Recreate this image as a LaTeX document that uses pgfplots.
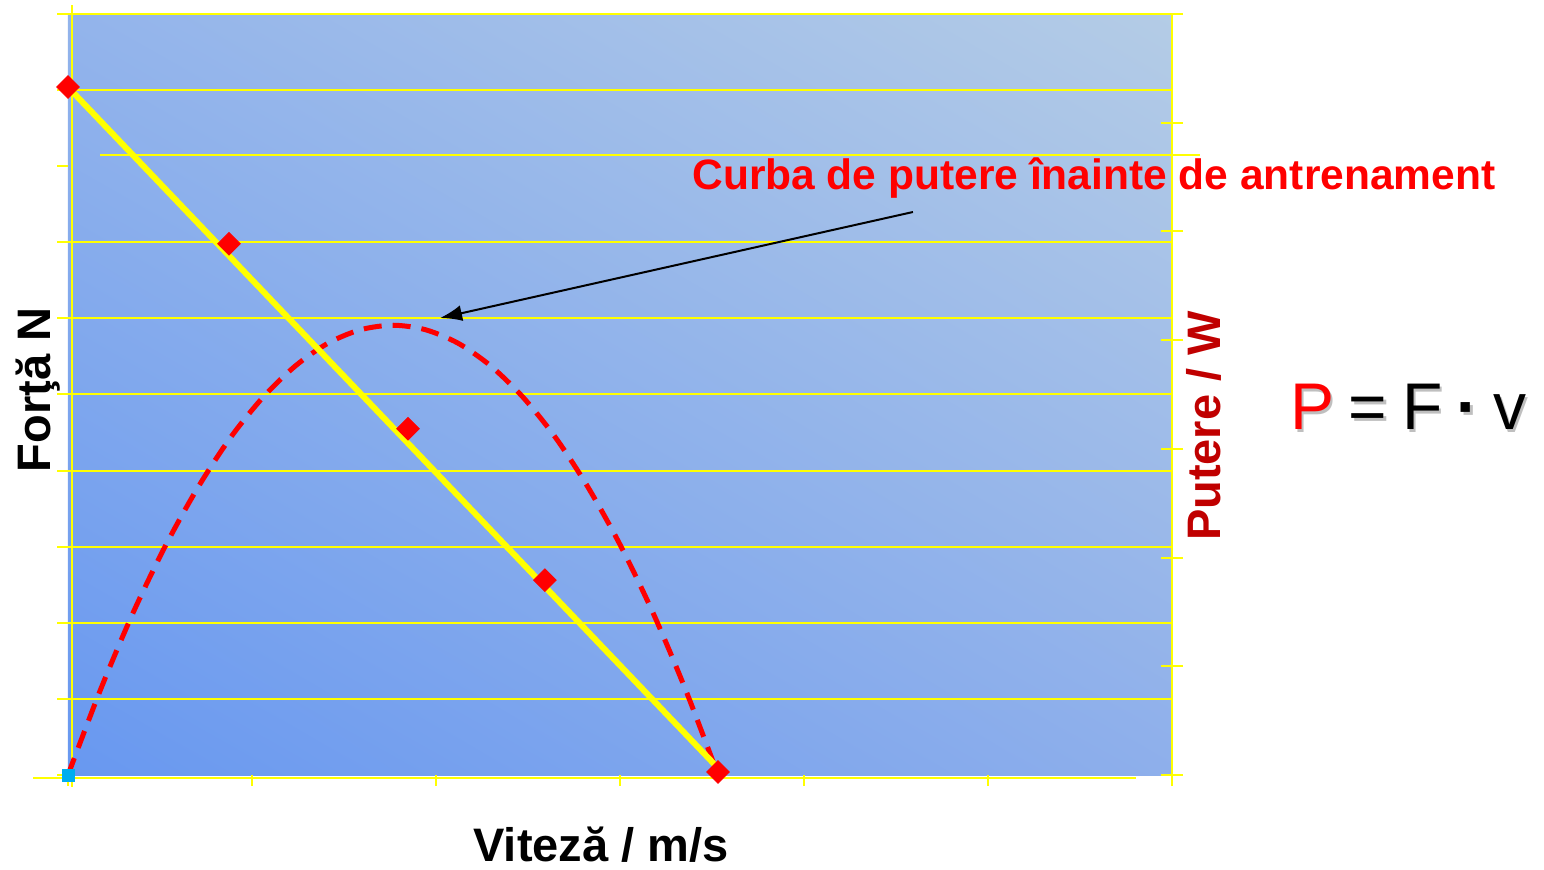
\documentclass[border=0pt]{standalone}
\usepackage{pgfplots}
\pgfplotsset{compat=1.18}
\usepackage{fontspec}
\setmainfont{Liberation Sans}
\usetikzlibrary{arrows.meta,shadings}
\definecolor{ylw}{RGB}{255,255,0}
\definecolor{dred}{RGB}{192,0,0}
\definecolor{bgll}{HTML}{6898F0}
\definecolor{bgul}{HTML}{93B4EB}
\definecolor{bgur}{HTML}{B4CCE6}
\definecolor{bglr}{HTML}{8EAFEB}
\begin{document}
\begin{tikzpicture}[x=1pt,y=1pt]
\useasboundingbox (0,0) rectangle (772,434.5);
\begin{axis}[
  at={(34pt,47pt)}, anchor=south west,
  scale only axis, width=552pt, height=380.5pt,
  xmin=0, xmax=6, ymin=0, ymax=10,
  clip=false,
  axis background/.style={shading=bilinear interpolation, lower left=bgll, upper left=bgul, upper right=bgur, lower right=bglr},
  axis line style={draw=none},
  xtick={0,...,6}, ytick={0,...,10},
  xticklabels={}, yticklabels={},
  tick pos=left, tick align=outside, major tick length=5.5pt,
  tick style={ylw, line width=1pt},
  xlabel={\bfseries Vitez\u{a} / m/s},
  ylabel={\bfseries For\c{t}\u{a} N},
  every axis x label/.style={at={(axis description cs:0.4828,-0.1138)}, anchor=base, inner sep=0pt, font=\fontsize{23.5pt}{28pt}\selectfont},
  every axis y label/.style={at={(axis description cs:-0.0163,0.5059)}, rotate=90, anchor=base, font=\fontsize{23.5pt}{28pt}\selectfont},
]
% grid and frame lines
\foreach \g in {1,2,3,4,5,6,7,9} {
  \edef\tmp{\noexpand\draw[ylw, line width=1pt] (axis cs:0,\g) -- (axis cs:6,\g);}\tmp
}
\draw[ylw, line width=1pt] (axis cs:0.174,8.147) -- (axis cs:6.152,8.147);
\draw[ylw, line width=1pt] (axis cs:-0.054,10) -- (axis cs:6.054,10);
\draw[ylw, line width=1pt] (axis cs:0.0217,-0.158) -- (axis cs:0.0217,10.118);
\draw[ylw, line width=1pt] (axis cs:-0.19,-0.039) -- (axis cs:5.804,-0.039);
\draw[ylw, line width=1pt] (axis cs:6,-0.145) -- (axis cs:6,10);
% power curve (dashed)
\addplot[red, line width=2.5pt, dash pattern=on 9pt off 5.5pt, smooth] coordinates {
 (0,0) (0.177,1.123) (0.353,2.128) (0.530,3.014) (0.707,3.782) (0.883,4.433)
 (1.060,4.964) (1.237,5.378) (1.413,5.674) (1.590,5.851) (1.767,5.910)
 (1.943,5.851) (2.120,5.674) (2.296,5.378) (2.473,4.964) (2.650,4.433)
 (2.826,3.782) (3.003,3.014) (3.180,2.128) (3.356,1.123) (3.533,0)
};
% force-velocity line
\addplot[ylw, line width=3pt] coordinates {(0,9.04) (3.533,0.09)};
\addplot[only marks, mark=square*, mark size=4pt, mark options={rotate=45, fill=red, draw=red}] coordinates {
 (0,9.04) (0.875,6.98) (1.848,4.55) (2.592,2.56) (3.533,0.04)
};
\addplot[only marks, mark=square*, mark size=3pt, mark options={fill=cyan, draw=cyan}] coordinates {(0,0)};
% annotation arrow
\draw[black, line width=1pt, -{Latex[length=11pt,width=8pt]}] (axis cs:4.592,7.398) -- (axis cs:2.022,6.005);
\end{axis}
\begin{axis}[
  at={(34pt,47pt)}, anchor=south west,
  scale only axis, width=552pt, height=380.5pt,
  xmin=0, xmax=6, ymin=0, ymax=7,
  axis line style={draw=none},
  xtick=\empty, ytick={0,...,7}, yticklabels={},
  ytick pos=right, tick align=center, major tick length=11pt,
  tick style={ylw, line width=1pt},
  ylabel={\bfseries Putere / W},
  every axis y label/.style={at={(axis description cs:1.0435,0.4586)}, rotate=90, anchor=base, font=\fontsize{23.5pt}{28pt}\selectfont, text=dred},
]
\end{axis}
\node[anchor=base west, inner sep=0pt, text=red, font=\fontsize{21.25pt}{25pt}\selectfont\bfseries] at (346,339.5) {Curba de putere înainte de antrenament};
\node[anchor=base west, inner sep=0pt, text=black!25, font=\fontsize{33pt}{38pt}\selectfont] at (646.2,218.3) {\spaceskip=0.22em P = F {\bfseries·} v};
\node[anchor=base west, inner sep=0pt, font=\fontsize{33pt}{38pt}\selectfont] at (645,219.5) {\spaceskip=0.22em \textcolor{red}{P} = F {\bfseries·} v};
\end{tikzpicture}
\end{document}
